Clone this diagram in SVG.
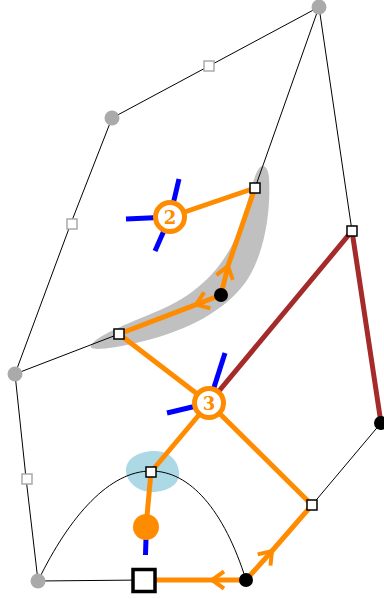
<svg xmlns="http://www.w3.org/2000/svg" width="384" height="599" viewBox="0 0 384 599">
<style>
.thin{stroke:#000;stroke-width:1;fill:none}
.or{stroke:#ff8c00;stroke-width:5;fill:none}
.or-arr{stroke:#ff8c00;stroke-width:5;fill:none;marker-mid:url(#chev)}
.br{stroke:#a52a2a;stroke-width:5;fill:none}
.bl{stroke:#0000ff;stroke-width:5;fill:none}
.gc{fill:#aaaaaa}
.gs{fill:#fff;stroke:#aaaaaa;stroke-width:1.5}
.ws{fill:#fff;stroke:#000;stroke-width:1.5}
.bc{fill:#000}
.ring{fill:#fff;stroke:#ff8c00;stroke-width:5}
.lbl{font-family:"DejaVu Serif",serif;font-weight:bold;font-size:18px;fill:#ff8c00;text-anchor:middle}
</style>
<defs>
<marker id="chev" markerUnits="userSpaceOnUse" orient="auto" overflow="visible" markerWidth="1" markerHeight="1">
<path d="M -12,-8.5 L 0,0 L -12,8.5" fill="none" stroke="#ff8c00" stroke-width="4"/>
</marker>
</defs>
<g id="regions">
<path d="M 91,346 C 95,336 125,325 160,310 C 200,293 225,265 238,232 C 248,205 252,180 258,170 C 262,163 268,165 269,178 C 271,210 265,255 245,283 C 225,310 190,330 140,342 C 115,348 88,352 91,346 Z" fill="#c0c0c0"/>
<path d="M 126,470 C 126,458 140,451 155,451 C 170,451 179,462 179,474 C 179,486 165,492 152,492 C 138,492 126,482 126,470 Z" fill="#add8e6"/>
</g>
<g id="connectors">
<polyline class="thin" points="319,7 209,66 112,118 71,223 15,374 26,478 38,581 144,580"/>
<line class="thin" x1="319" y1="7" x2="255" y2="188"/>
<line class="thin" x1="319" y1="7" x2="352" y2="231"/>
<line class="thin" x1="15" y1="374" x2="119" y2="334"/>
<line class="thin" x1="381" y1="423" x2="312" y2="505"/>
<path class="thin" d="M 38,581 C 70,515 110,471 151,471 C 190,471 224,510 246,580"/>
<line class="or" x1="170" y1="217" x2="255" y2="188"/>
<path class="or-arr" d="M 221,295 L 228,266 L 255,188"/>
<path class="or-arr" d="M 221,295 L 196,304.6 L 119,334"/>
<line class="or" x1="119" y1="334" x2="209" y2="403"/>
<line class="or" x1="209" y1="403" x2="151" y2="472"/>
<line class="or" x1="151" y1="472" x2="146" y2="527"/>
<line class="or" x1="209" y1="403" x2="312" y2="505"/>
<path class="or-arr" d="M 246,580 L 272,551 L 312,505"/>
<path class="or-arr" d="M 246,580 L 212,580 L 144,580"/>
<polyline class="br" points="209,403 352,231 381,423"/>
<line class="bl" x1="179" y1="179" x2="170" y2="217"/>
<line class="bl" x1="126" y1="219" x2="170" y2="217"/>
<line class="bl" x1="155" y1="251" x2="170" y2="217"/>
<line class="bl" x1="225" y1="353" x2="209" y2="403"/>
<line class="bl" x1="167" y1="413" x2="209" y2="403"/>
<line class="bl" x1="146" y1="538" x2="145.5" y2="555"/>
</g>
<g id="n-top"><circle class="gc" cx="319" cy="7" r="7.5"/></g>
<g id="n-g1"><circle class="gc" cx="112" cy="118" r="7.5"/></g>
<g id="n-g2"><circle class="gc" cx="15" cy="374" r="7.5"/></g>
<g id="n-g3"><circle class="gc" cx="38" cy="581" r="7.5"/></g>
<g id="s-g1"><rect class="gs" x="204" y="61" width="10" height="10"/></g>
<g id="s-g2"><rect class="gs" x="67" y="219" width="10" height="10"/></g>
<g id="s-g3"><rect class="gs" x="22" y="474" width="10" height="10"/></g>
<g id="s-1"><rect class="ws" x="250" y="183" width="10" height="10"/></g>
<g id="s-2"><rect class="ws" x="347" y="226" width="10" height="10"/></g>
<g id="s-3"><rect class="ws" x="114" y="329" width="10" height="10"/></g>
<g id="s-4"><rect class="ws" x="307" y="500" width="10" height="10"/></g>
<g id="s-5"><rect class="ws" x="146" y="467" width="10" height="10"/></g>
<g id="s-big"><rect x="133" y="569.5" width="22" height="22" fill="#fff" stroke="#000" stroke-width="3.5"/></g>
<g id="b-1"><circle class="bc" cx="221" cy="295" r="7"/></g>
<g id="b-2"><circle class="bc" cx="381" cy="423" r="7"/></g>
<g id="b-3"><circle class="bc" cx="246" cy="580" r="7"/></g>
<g id="o-dot"><circle cx="146" cy="527" r="13" fill="#ff8c00"/></g>
<g id="node2"><circle class="ring" cx="170" cy="217" r="14.5"/><text class="lbl" x="170" y="223.5">2</text></g>
<g id="node3"><circle class="ring" cx="209" cy="403" r="14.5"/><text class="lbl" x="209" y="409.5">3</text></g>
</svg>
